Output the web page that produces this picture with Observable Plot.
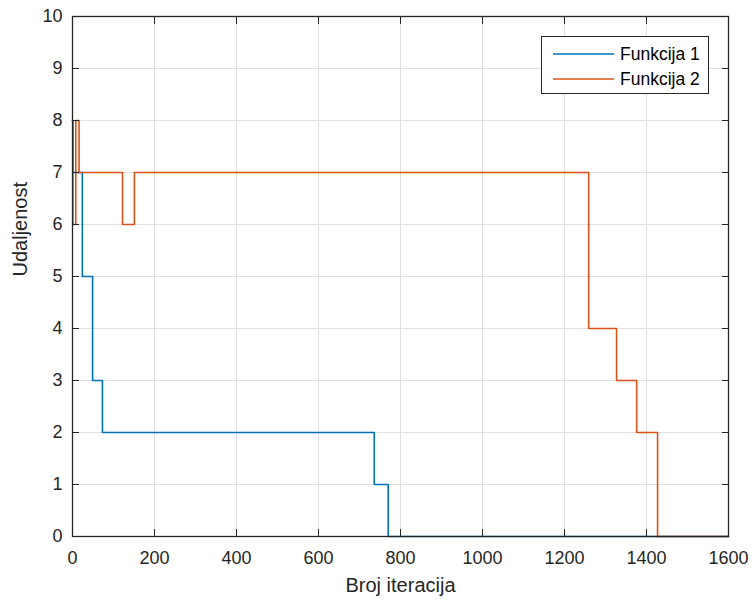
<!DOCTYPE html>
<html>
<head>
<meta charset="utf-8">
<script src="https://cdn.jsdelivr.net/npm/d3@7"></script>
<script src="https://cdn.jsdelivr.net/npm/@observablehq/plot@0.6"></script>
<style>
  body { margin: 0; background: #fff; }
  #wrap { position: relative; width: 752px; height: 600px; font-family: "Liberation Sans", Arial, Helvetica, sans-serif; }
  .legend { position: absolute; left: 541px; top: 36px; width: 168px; height: 58px; border: 1px solid #262626; background: #fff; box-sizing: border-box; }
  .legend .row { position: absolute; left: 0; height: 24px; display: flex; align-items: center; }
  .legend .row svg { margin-left: 11px; }
  .legend .row span { margin-left: 6px; font-size: 17.5px; color: #000; }
</style>
</head>
<body>
<div id="wrap"></div>
<script>
// ---- data ----
const seriesNames = ["Funkcija 1", "Funkcija 2"];
const seriesColors = ["#0072BD", "#D95319"];
const f1Iter = [0, 1, 24, 49, 73, 736, 770, 1600];
const f1Dist = [8, 7, 5, 3, 2, 1, 0, 0];
const f2Iter = [0, 1, 8, 16, 122, 151, 1259, 1327, 1376, 1427, 1600];
const f2Dist = [8, 6, 8, 7, 6, 7, 4, 3, 2, 0, 0];
const xTicks = [0, 200, 400, 600, 800, 1000, 1200, 1400, 1600];
const yTicks = [0, 1, 2, 3, 4, 5, 6, 7, 8, 9, 10];
const xLabel = "Broj iteracija";
const yLabel = "Udaljenost";

const rows = [
  ...f1Iter.map((x, i) => ({ s: seriesNames[0], x, y: f1Dist[i] })),
  ...f2Iter.map((x, i) => ({ s: seriesNames[1], x, y: f2Dist[i] }))
];

const axisColor = "#262626";
const font = "\"Liberation Sans\", Arial, Helvetica, sans-serif";
const plain = d => String(d);

const chart = Plot.plot({
  width: 752,
  height: 600,
  marginLeft: 72,
  marginRight: 24,
  marginTop: 16,
  marginBottom: 64,
  style: { fontFamily: font, fontSize: "18px", color: axisColor, background: "#fff", overflow: "visible" },
  x: { domain: [0, 1600], label: null },
  y: { domain: [0, 10], label: null },
  color: { domain: seriesNames, range: seriesColors },
  marks: [
    Plot.gridX(xTicks, { stroke: "#e0e0e0", strokeOpacity: 1, strokeWidth: 1 }),
    Plot.gridY(yTicks, { stroke: "#e0e0e0", strokeOpacity: 1, strokeWidth: 1 }),
    Plot.line(rows, { x: "x", y: "y", z: "s", stroke: "s", curve: "step-after", strokeWidth: 1.6 }),
    Plot.frame({ stroke: axisColor, strokeWidth: 1.3 }),
    Plot.axisX({ anchor: "bottom", ticks: xTicks, tickSize: -7, tickPadding: 22, tickFormat: plain, stroke: axisColor, fill: axisColor, label: null, fontSize: 18 }),
    Plot.axisX({ anchor: "top", ticks: xTicks, tickSize: -7, tickFormat: () => "", stroke: axisColor, label: null }),
    Plot.axisY({ anchor: "left", ticks: yTicks, tickSize: -7, tickPadding: 17, tickFormat: plain, stroke: axisColor, fill: axisColor, label: null, fontSize: 18 }),
    Plot.axisY({ anchor: "right", ticks: yTicks, tickSize: -7, tickFormat: () => "", stroke: axisColor, label: null }),
    Plot.text([xLabel], { frameAnchor: "bottom", dy: 49, lineAnchor: "middle", fontSize: 20, fill: axisColor }),
    Plot.text([yLabel], { frameAnchor: "left", dx: -52, rotate: -90, lineAnchor: "middle", fontSize: 20, fill: axisColor })
  ]
});

const wrap = document.getElementById("wrap");
wrap.appendChild(chart);

// legend overlay
const legend = document.createElement("div");
legend.className = "legend";
seriesNames.forEach((name, i) => {
  const row = document.createElement("div");
  row.className = "row";
  row.style.top = (5 + i * 25) + "px";
  row.innerHTML = `<svg width="61" height="4"><line x1="0" x2="61" y1="2" y2="2" stroke="${seriesColors[i]}" stroke-width="1.6"/></svg><span>${name}</span>`;
  legend.appendChild(row);
});
wrap.appendChild(legend);
</script>
</body>
</html>
